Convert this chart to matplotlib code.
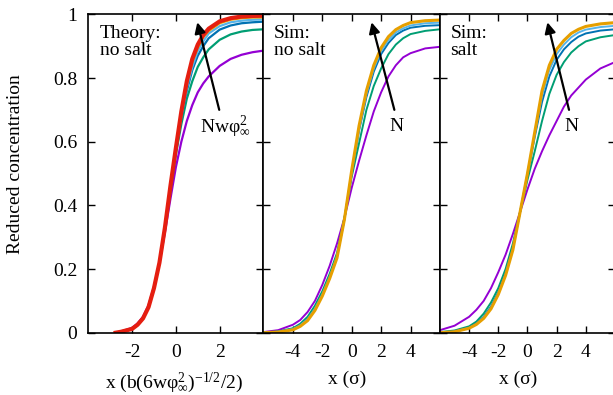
import matplotlib
matplotlib.use('Agg')
import matplotlib.pyplot as plt

############################################
plt.rcParams['font.family'] = ['Liberation Serif', 'DejaVu Serif']
plt.rcParams['mathtext.default'] = 'regular'
plt.rcParams['axes.unicode_minus'] = False
FONT = 14
############################################

# theory panel (x in units of b(6w phi^2)^-1/2 / 2)
theory_x = [-2.75, -2.5, -2, -1.75, -1.5, -1.25, -1, -0.75, -0.5, -0.25, 0,
            0.25, 0.5, 0.75, 1, 1.25, 1.5, 2, 2.5, 3, 3.5, 4]
theory_purple = [0, 0.004, 0.015, 0.029, 0.05, 0.086, 0.145, 0.22, 0.315, 0.42, 0.52,
                 0.6, 0.665, 0.715, 0.755, 0.783, 0.805, 0.838, 0.86, 0.873, 0.881, 0.886]
theory_green = [0, 0.003, 0.012, 0.025, 0.045, 0.08, 0.14, 0.22, 0.325, 0.445, 0.56,
                0.655, 0.735, 0.79, 0.835, 0.865, 0.89, 0.92, 0.937, 0.946, 0.951, 0.953]
theory_blue = [0, 0.003, 0.012, 0.025, 0.045, 0.08, 0.14, 0.22, 0.33, 0.453, 0.57,
               0.675, 0.76, 0.825, 0.87, 0.9, 0.925, 0.952, 0.965, 0.972, 0.975, 0.977]
theory_lblue = [0, 0.003, 0.012, 0.025, 0.045, 0.08, 0.14, 0.22, 0.33, 0.456, 0.575,
                0.68, 0.77, 0.835, 0.885, 0.915, 0.94, 0.963, 0.975, 0.98, 0.983, 0.984]
theory_orange = [0, 0.003, 0.012, 0.025, 0.045, 0.08, 0.14, 0.22, 0.33, 0.458, 0.578,
                 0.685, 0.78, 0.85, 0.895, 0.928, 0.948, 0.972, 0.983, 0.988, 0.99, 0.99]
theory_red = [0, 0.003, 0.012, 0.025, 0.045, 0.08, 0.14, 0.22, 0.33, 0.46, 0.58,
              0.695, 0.79, 0.86, 0.905, 0.935, 0.955, 0.978, 0.988, 0.993, 0.995, 0.996]

# simulation panels (x in sigma)
sim_x = [-6, -5, -4, -3.5, -3, -2.5, -2, -1.5, -1, -0.5, 0, 0.5, 1, 1.5, 2, 2.5, 3, 3.5, 4, 5, 6]

nosalt_purple = [0.002, 0.008, 0.025, 0.04, 0.065, 0.1, 0.15, 0.21, 0.28, 0.36, 0.455,
                 0.54, 0.62, 0.695, 0.755, 0.805, 0.84, 0.865, 0.878, 0.893, 0.898]
nosalt_green = [0.001, 0.004, 0.014, 0.028, 0.05, 0.085, 0.13, 0.185, 0.25, 0.36, 0.49,
                0.595, 0.7, 0.775, 0.83, 0.875, 0.905, 0.925, 0.938, 0.948, 0.953]
nosalt_blue = [0.0, 0.003, 0.011, 0.023, 0.042, 0.075, 0.12, 0.175, 0.24, 0.355, 0.5,
               0.635, 0.74, 0.82, 0.875, 0.91, 0.935, 0.949, 0.958, 0.964, 0.966]
nosalt_lblue = [0.0, 0.003, 0.011, 0.023, 0.042, 0.075, 0.12, 0.175, 0.24, 0.355, 0.505,
                0.64, 0.75, 0.83, 0.885, 0.92, 0.943, 0.956, 0.965, 0.972, 0.974]
nosalt_orange = [0.0, 0.002, 0.009, 0.02, 0.038, 0.07, 0.115, 0.17, 0.235, 0.355, 0.51,
                 0.65, 0.76, 0.84, 0.895, 0.93, 0.952, 0.965, 0.974, 0.98, 0.982]

salt_purple = [0.008, 0.022, 0.05, 0.072, 0.1, 0.14, 0.19, 0.245, 0.31, 0.38, 0.45,
               0.515, 0.57, 0.62, 0.665, 0.71, 0.745, 0.77, 0.795, 0.83, 0.85]
salt_green = [0.002, 0.007, 0.02, 0.035, 0.06, 0.095, 0.14, 0.2, 0.28, 0.38, 0.48,
              0.57, 0.665, 0.75, 0.81, 0.85, 0.88, 0.9, 0.915, 0.928, 0.935]
salt_blue = [0.001, 0.004, 0.016, 0.029, 0.05, 0.082, 0.127, 0.187, 0.267, 0.38, 0.495,
             0.615, 0.725, 0.805, 0.857, 0.89, 0.913, 0.93, 0.94, 0.949, 0.953]
salt_lblue = [0.0, 0.003, 0.015, 0.027, 0.047, 0.078, 0.123, 0.183, 0.263, 0.38, 0.5,
              0.625, 0.745, 0.825, 0.875, 0.905, 0.928, 0.943, 0.952, 0.96, 0.964]
salt_orange = [0.0, 0.003, 0.014, 0.026, 0.045, 0.075, 0.12, 0.18, 0.26, 0.38, 0.5,
               0.63, 0.76, 0.84, 0.89, 0.918, 0.94, 0.953, 0.962, 0.97, 0.974]

y_ticks = [0, 0.2, 0.4, 0.6, 0.8, 1]
y_labels = ['0', '0.2', '0.4', '0.6', '0.8', '1']
theory_ticks = [-2, 0, 2]
sim_ticks = [-4, -2, 0, 2, 4]

PURPLE = '#9400d3'
GREEN = '#009e73'
BLUE = '#0072b2'
LBLUE = '#56b4e9'
ORANGE = '#e69f00'
RED = '#e51e10'

fig = plt.figure(figsize=(6.13, 3.95), dpi=100)

bottom = 0.1577
height = 0.806
ax1 = fig.add_axes([0.144, bottom, 0.2858, height])
ax2 = fig.add_axes([0.4298, bottom, 0.2879, height])
ax3 = fig.add_axes([0.7177, bottom, 0.2855, height])

# theory
ax1.plot(theory_x, theory_purple, color=PURPLE, lw=1.6)
ax1.plot(theory_x, theory_green, color=GREEN, lw=1.6)
ax1.plot(theory_x, theory_blue, color=BLUE, lw=1.6)
ax1.plot(theory_x, theory_lblue, color=LBLUE, lw=1.6)
ax1.plot(theory_x, theory_orange, color=ORANGE, lw=1.6)
ax1.plot(theory_x, theory_red, color=RED, lw=3.0)

# sim, no salt
ax2.plot(sim_x, nosalt_purple, color=PURPLE, lw=1.4)
ax2.plot(sim_x, nosalt_green, color=GREEN, lw=1.4)
ax2.plot(sim_x, nosalt_blue, color=BLUE, lw=1.4)
ax2.plot(sim_x, nosalt_lblue, color=LBLUE, lw=1.4)
ax2.plot(sim_x, nosalt_orange, color=ORANGE, lw=2.2)

# sim, salt
ax3.plot(sim_x, salt_purple, color=PURPLE, lw=1.4)
ax3.plot(sim_x, salt_green, color=GREEN, lw=1.4)
ax3.plot(sim_x, salt_blue, color=BLUE, lw=1.4)
ax3.plot(sim_x, salt_lblue, color=LBLUE, lw=1.4)
ax3.plot(sim_x, salt_orange, color=ORANGE, lw=2.2)

for ax in (ax1, ax2, ax3):
    ax.set_ylim(0, 1)
    ax.set_yticks(y_ticks)
    ax.tick_params(direction='in', top=True, right=True, length=5, width=1,
                   labelsize=FONT, pad=8)
    for sp in ax.spines.values():
        sp.set_linewidth(1.2)

ax1.set_xlim(-4, 4)
ax1.set_xticks(theory_ticks)
ax1.set_yticklabels(y_labels)
ax2.set_xlim(-6, 6)
ax2.set_xticks(sim_ticks)
ax2.set_yticklabels([])
ax3.set_xlim(-6, 6)
ax3.set_xticks(sim_ticks)
ax3.set_yticklabels([])

# axis labels
ax1.set_xlabel('x (b(6w$φ_{∞}^{2}$)$^{-1/2}$/2)', fontsize=FONT)
ax2.set_xlabel('x (σ)', fontsize=FONT)
ax3.set_xlabel('x (σ)', fontsize=FONT)
ax1.xaxis.set_label_coords(0.49, -0.12)
ax2.xaxis.set_label_coords(0.473, -0.12)
ax3.xaxis.set_label_coords(0.446, -0.12)
fig.text(0.025, 0.585, 'Reduced concentration', rotation=90, fontsize=FONT,
         ha='center', va='center')

# panel titles
ax1.text(0.066, 0.968, 'Theory:\nno salt', transform=ax1.transAxes, fontsize=FONT,
         ha='left', va='top', linespacing=1.05)
ax2.text(0.06, 0.968, 'Sim:\nno salt', transform=ax2.transAxes, fontsize=FONT,
         ha='left', va='top', linespacing=1.05)
ax3.text(0.06, 0.968, 'Sim:\nsalt', transform=ax3.transAxes, fontsize=FONT,
         ha='left', va='top', linespacing=1.05)

# arrows
arrow = dict(arrowstyle='-|>', lw=1.6, color='black', mutation_scale=16,
             shrinkA=0, shrinkB=0)
ax1.annotate('', xy=(0.98, 0.975), xytext=(1.98, 0.70), arrowprops=arrow)
ax2.annotate('', xy=(1.35, 0.975), xytext=(2.9, 0.70), arrowprops=arrow)
ax3.annotate('', xy=(1.37, 0.975), xytext=(2.85, 0.70), arrowprops=arrow)
ax1.text(1.12, 0.648, 'Nw$φ_{∞}^{2}$', fontsize=FONT, ha='left', va='center')
ax2.text(3.05, 0.648, 'N', fontsize=FONT, ha='center', va='center')
ax3.text(3.01, 0.648, 'N', fontsize=FONT, ha='center', va='center')

plt.savefig('out.png', dpi=100)
